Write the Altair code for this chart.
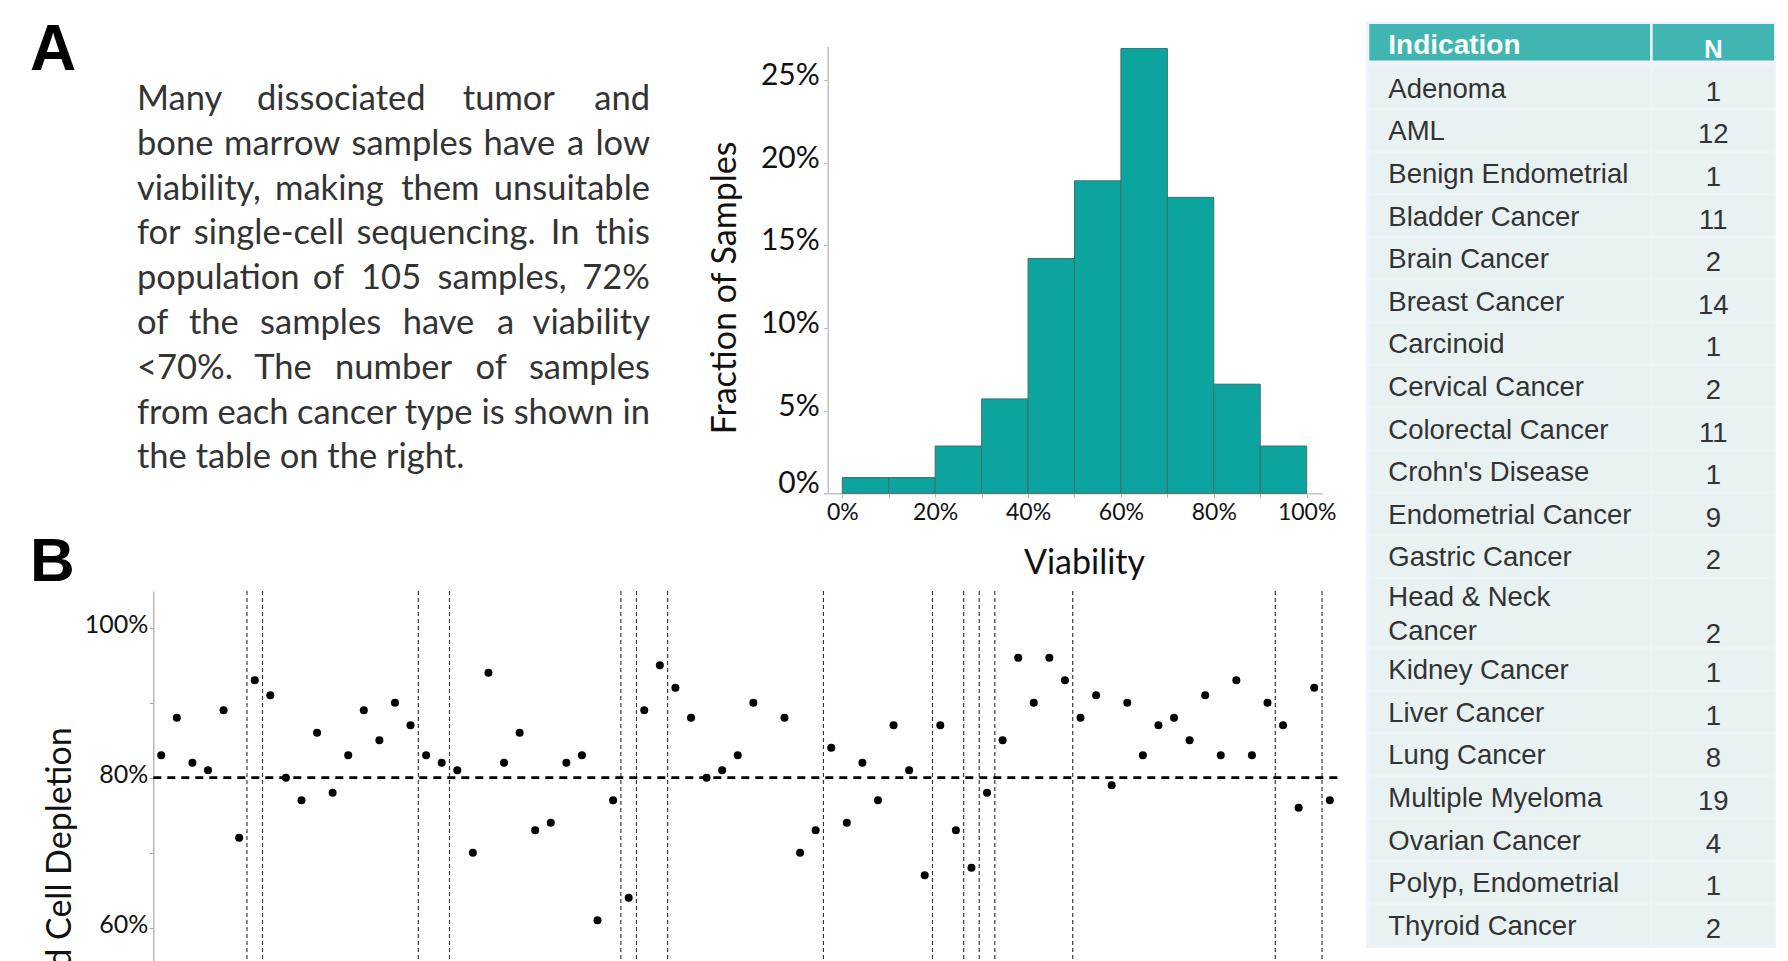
import altair as alt
import pandas as pd

# ---------------- data ----------------
# Panel A histogram: share of samples (in %) per 10%-wide viability bin
viability_bin_start = [0, 10, 20, 30, 40, 50, 60, 70, 80, 90]
viability_bin_width = 10
fraction_of_samples = [0.95, 0.95, 2.86, 5.71, 14.2, 18.9, 26.9, 17.9, 6.6, 2.86]
hist_x_ticks = [0, 10, 20, 30, 40, 50, 60, 70, 80, 90, 100]
hist_y_ticks = [0, 5, 10, 15, 20, 25]

# Panel A table: number of samples per indication
indications = [
    "Adenoma", "AML", "Benign Endometrial", "Bladder Cancer", "Brain Cancer",
    "Breast Cancer", "Carcinoid", "Cervical Cancer", "Colorectal Cancer",
    "Crohn's Disease", "Endometrial Cancer", "Gastric Cancer",
    "Head & Neck\nCancer", "Kidney Cancer", "Liver Cancer", "Lung Cancer",
    "Multiple Myeloma", "Ovarian Cancer", "Polyp, Endometrial", "Thyroid Cancer",
]
indication_n = [1, 12, 1, 11, 2, 14, 1, 2, 11, 1, 9, 2, 2, 1, 1, 8, 19, 4, 1, 2]

# Panel B: red blood cell depletion (%) per sample, in plotting order (None = no value)
rbc_depletion = [
    83, 88, 82, 81, 89, 72, 93, 91, 80, 77, 86, 78, 83, 89, 85, 90, 87, 83, 82, 81,
    70, 94, 82, 86, 73, 74, 82, 83, 61, 77, 64, 89, 95, 92, 88, 80, 81, 83, 90, None,
    88, 70, 73, 84, 74, 82, 77, 87, 81, 67, 87, 73, 68, 78, 85, 96, 90, 96, 93, 88,
    91, 79, 90, 83, 87, 88, 85, 91, 83, 93, 83, 90, 87, 76, 92, 77,
]
# separators between indication groups (sample-index units)
group_breaks = [5.5, 6.5, 16.5, 18.5, 29.5, 30.5, 32.5, 42.5, 49.5, 51.5,
                52.5, 53.5, 58.5, 71.5, 74.5]
depletion_threshold = 80
depletion_ticks = [60, 70, 80, 90, 100]

paragraph_lines = [
    "Many dissociated tumor and",
    "bone marrow samples have a low",
    "viability, making them unsuitable",
    "for single-cell sequencing. In this",
    "population of 105 samples, 72%",
    "of the samples have a viability",
    "<70%. The number of samples",
    "from each cancer type is shown in",
    "the table on the right.",
]

# ---------------- styling ----------------
W, H = 1788, 961
BAR_FILL = "#0DA49F"
BAR_EDGE = "#3E6E6B"
HEAD_FILL = "#41B5B1"
CELL_FILL = "#E8F2F2"
TABLE_BG = "#EEF2F9"
TEXT_DARK = "#333333"
SANS = "Lato"
TABLE_FONT = "Liberation Sans"
PARA_SIZE = 34.5
PARA_WIDTH = 513


def lin(domain, rng):
    return alt.Scale(type="linear", domain=domain, range=rng, nice=False, zero=False)


# ---------------- histogram ----------------
hist_df = pd.DataFrame({
    "start": viability_bin_start,
    "end": [s + viability_bin_width for s in viability_bin_start],
    "frac": fraction_of_samples,
    "base": [0.0] * len(viability_bin_start),
})
hx = lin([-3.94, 103.45], [824, 1322.7])
hy = lin([0, 27.02], [493.3, 46.6])

hist = alt.Chart(hist_df).mark_rect(fill=BAR_FILL, stroke=BAR_EDGE, strokeWidth=1).encode(
    x=alt.X("start:Q", scale=hx, axis=alt.Axis(
        orient="bottom", offset=493.3 - H, values=hist_x_ticks,
        labelExpr="datum.value % 20 === 0 ? datum.value + '%' : ''",
        grid=False, domainColor="#C6C6C6", domainWidth=1.6,
        tickColor="#B8B8B8", tickSize=4, tickWidth=1,
        labelFont=SANS, labelFontSize=23, labelColor="#111111",
        labelBaseline="alphabetic", labelPadding=22, labelFlush=False,
        labelOverlap=False,
        title="Viability", titleFont=SANS, titleFontSize=34, titleFontWeight="normal",
        titleColor="#111111", titleX=1084, titleY=80.2, titleBaseline="alphabetic",
        titleAlign="center",
    )),
    x2="end:Q",
    y=alt.Y("frac:Q", scale=hy, axis=alt.Axis(
        orient="left", offset=-827.7, values=hist_y_ticks,
        labelExpr="datum.value + '%'",
        grid=False, domainColor="#C6C6C6", domainWidth=1.6,
        tickColor="#B8B8B8", tickSize=4, tickWidth=1,
        labelFont=SANS, labelFontSize=30, labelColor="#111111",
        labelBaseline="alphabetic", labelPadding=4.4, labelOverlap=False,
        labelOffset={"condition": {"test": "datum.value === 0", "value": -1}, "value": 4.5},
        title="Fraction of Samples", titleFont=SANS, titleFontSize=34,
        titleFontWeight="normal", titleColor="#111111", titleAngle=270,
        titleX=-92.7, titleY=287.4, titleAlign="center", titleBaseline="alphabetic",
    )),
    y2="base:Q",
)

# ---------------- scatter ----------------
dep_df = pd.DataFrame({"idx": list(range(len(rbc_depletion))), "val": rbc_depletion}).dropna()
x_lo, x_hi = -0.51, len(rbc_depletion) - 0.52
y_lo, y_hi = 55.56, 104.9
sx = lin([x_lo, x_hi], [153.3, 1337.3])
sy = lin([y_lo, y_hi], [H, 591])

breaks_df = pd.DataFrame({"pos": group_breaks, "top": y_hi, "bot": y_lo})
breaks = alt.Chart(breaks_df).mark_rule(color="#333333", strokeWidth=1.15, strokeDash=[4, 3]).encode(
    x=alt.X("pos:Q", scale=sx, axis=None),
    y=alt.Y("top:Q", scale=sy, axis=None),
    y2="bot:Q",
)

thr_df = pd.DataFrame({"x0": [x_lo], "x1": [x_hi], "y": [depletion_threshold]})
threshold = alt.Chart(thr_df).mark_rule(color="#000000", strokeWidth=2.7, strokeDash=[8, 6]).encode(
    x=alt.X("x0:Q", scale=sx, axis=None),
    x2="x1:Q",
    y=alt.Y("y:Q", scale=sy, axis=None),
)

points = alt.Chart(dep_df).mark_circle(size=64, color="#000000", opacity=1).encode(
    x=alt.X("idx:Q", scale=sx, axis=None),
    y=alt.Y("val:Q", scale=sy, axis=alt.Axis(
        orient="left", offset=-153.3, values=depletion_ticks,
        labelExpr="datum.value % 20 === 0 ? datum.value + '%' : ''",
        grid=False, domainColor="#A8A8A8", domainWidth=1.2,
        tickColor="#A8A8A8", tickSize=4, tickWidth=1,
        labelFont=SANS, labelFontSize=25, labelColor="#111111",
        labelBaseline="alphabetic", labelOffset=4.4, labelPadding=1.6,
        labelOverlap=False,
        title="Red Blood Cell Depletion", titleFont=SANS, titleFontSize=34,
        titleFontWeight="normal", titleColor="#111111", titleAngle=270,
        titleX=70.7 - 153.3, titleY=726.7, titleAlign="right", titleBaseline="alphabetic",
    )),
)

# ---------------- table ----------------
line_units = 0.8  # spacing between wrapped lines, in row units
rows = []
start = 0.0
for name, n in zip(indications, indication_n):
    extra = name.count("\n")
    height = 1 + 0.65 * extra
    first = start + (height - extra * line_units) / 2
    rows.append({"name": name, "n": str(n), "y0": start, "y1": start + height,
                 "name_y": first, "n_y": first + extra * line_units})
    start += height
total_units = start
rows_df = pd.DataFrame(rows)

tx = lin([0, 410], [1366, 1776])
ty = lin([0, total_units], [66.5, 946.2])

columns = [
    {"col": "Indication", "x0": 3.3, "x1": 284.0},
    {"col": "N", "x0": 286.7, "x1": 408.0},
]
cells = []
for r in rows:
    for c in columns:
        cells.append({"x0": c["x0"], "x1": c["x1"], "y0": r["y0"] + 0.03, "y1": r["y1"] - 0.03})
cells_df = pd.DataFrame(cells)
head_df = pd.DataFrame([{"x0": c["x0"], "x1": c["x1"], "y0": -1.0, "y1": -0.14} for c in columns])
frame_df = pd.DataFrame([{"x0": 0, "x1": 410, "y0": -1.05, "y1": total_units + 0.04}])


def rect_layer(df, fill):
    return alt.Chart(df).mark_rect(fill=fill).encode(
        x=alt.X("x0:Q", scale=tx, axis=None), x2="x1:Q",
        y=alt.Y("y0:Q", scale=ty, axis=None), y2="y1:Q",
    )


frame = rect_layer(frame_df, TABLE_BG)
head_cells = rect_layer(head_df, HEAD_FILL)
body_cells = rect_layer(cells_df, CELL_FILL)

head_text_df = pd.DataFrame([
    {"label": "Indication", "x": 22.3, "y": -0.293},
    {"label": "N", "x": 347.3, "y": -0.19},
])
head_indication = alt.Chart(head_text_df.iloc[[0]]).mark_text(
    font=TABLE_FONT, fontSize=28, fontWeight="bold", color="#F7FCFC",
    align="left", baseline="alphabetic",
).encode(x=alt.X("x:Q", scale=tx, axis=None), y=alt.Y("y:Q", scale=ty, axis=None), text="label:N")
head_n = alt.Chart(head_text_df.iloc[[1]]).mark_text(
    font=TABLE_FONT, fontSize=26, fontWeight="bold", color="#F7FCFC",
    align="center", baseline="alphabetic",
).encode(x=alt.X("x:Q", scale=tx, axis=None), y=alt.Y("y:Q", scale=ty, axis=None), text="label:N")

rows_df["name_x"] = 22.3
rows_df["n_x"] = 347.3
name_text = alt.Chart(rows_df).mark_text(
    font=TABLE_FONT, fontSize=27.5, color=TEXT_DARK, align="left", baseline="alphabetic",
    dy=10, lineBreak="\n", lineHeight=34,
).encode(x=alt.X("name_x:Q", scale=tx, axis=None), y=alt.Y("name_y:Q", scale=ty, axis=None),
         text="name:N")
n_text = alt.Chart(rows_df).mark_text(
    font=TABLE_FONT, fontSize=27.5, color=TEXT_DARK, align="center", baseline="alphabetic", dy=13,
).encode(x=alt.X("n_x:Q", scale=tx, axis=None), y=alt.Y("n_y:Q", scale=ty, axis=None),
         text="n:N")

# ---------------- justified paragraph ----------------
# rough advance widths (in em) used to spread the words of each line across the column
_em = {}
for ch in "ilj'": _em[ch] = 0.23
for ch in ".,:;": _em[ch] = 0.21
_em.update({"t": 0.34, "f": 0.31, "r": 0.36, "s": 0.42, "c": 0.46, "z": 0.44,
            "y": 0.5, "v": 0.5, "x": 0.5, "k": 0.5, "a": 0.5, "e": 0.52, "g": 0.51,
            "m": 0.85, "w": 0.78, "-": 0.33, "%": 0.8, "<": 0.58, "M": 0.85,
            "T": 0.54, "I": 0.27, " ": 0.26})


def est_width(word):
    total = 0.0
    for ch in word:
        if ch in _em:
            total += _em[ch]
        elif ch.isdigit():
            total += 0.58
        elif ch.isupper():
            total += 0.62
        else:
            total += 0.56
    return total * PARA_SIZE * 0.985


words = []
for i, line in enumerate(paragraph_lines):
    parts = line.split(" ")
    widths = [est_width(p) for p in parts]
    gap = (PARA_WIDTH - sum(widths)) / (len(parts) - 1) if len(parts) > 1 else 0
    if i == len(paragraph_lines) - 1 or gap < 0.2 * PARA_SIZE:
        words.append({"line": i, "text": line, "pos": 0.0, "anchor": "left"})
        continue
    x = 0.0
    for j, (p, w) in enumerate(zip(parts, widths)):
        if j == 0:
            words.append({"line": i, "text": p, "pos": 0.0, "anchor": "left"})
        elif j == len(parts) - 1:
            words.append({"line": i, "text": p, "pos": float(PARA_WIDTH), "anchor": "right"})
        else:
            words.append({"line": i, "text": p, "pos": x + w / 2, "anchor": "center"})
        x += w + gap
words_df = pd.DataFrame(words)
px = lin([0, PARA_WIDTH], [137, 137 + PARA_WIDTH])
py = lin([0, len(paragraph_lines) - 1], [110, 468.3])


def word_layer(anchor):
    return alt.Chart(words_df).transform_filter(
        alt.datum.anchor == anchor
    ).mark_text(
        font=SANS, fontSize=PARA_SIZE, color=TEXT_DARK, align=anchor, baseline="alphabetic",
    ).encode(x=alt.X("pos:Q", scale=px, axis=None), y=alt.Y("line:Q", scale=py, axis=None),
             text="text:N")


para_left = word_layer("left")
para_center = word_layer("center")
para_right = word_layer("right")

# ---------------- panel letters ----------------
letter_a = alt.Chart(pd.DataFrame({"t": ["A"]})).mark_text(
    font=TABLE_FONT, fontSize=64, fontWeight="bold", color="#000000",
    align="left", baseline="alphabetic",
).encode(x=alt.value(30), y=alt.value(70), text="t:N")
letter_b = alt.Chart(pd.DataFrame({"t": ["B"]})).mark_text(
    font=TABLE_FONT, fontSize=62, fontWeight="bold", color="#000000",
    align="left", baseline="alphabetic",
).encode(x=alt.value(30), y=alt.value(581), text="t:N")

chart = (
    alt.layer(
        hist, breaks, threshold, points,
        frame, head_cells, body_cells, head_indication, head_n, name_text, n_text,
        para_left, para_center, para_right, letter_a, letter_b,
    )
    .resolve_scale(x="independent", y="independent")
    .resolve_axis(x="independent", y="independent")
    .properties(width=W, height=H, autosize=alt.AutoSizeParams(type="none"), padding=0,
                background="white")
    .configure_view(stroke=None)
)

chart.save("out.html", embed_options={"renderer": "svg", "actions": False})
